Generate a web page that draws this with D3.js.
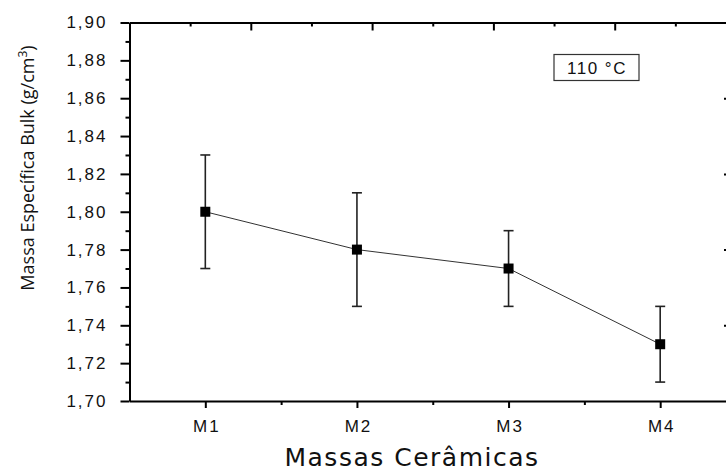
<!DOCTYPE html>
<html>
<head>
<meta charset="utf-8">
<script src="https://cdn.jsdelivr.net/npm/d3@7"></script>
<style>
  body { margin: 0; background: #fff; }
  svg { display: block; }
  .axis path, .axis line { stroke: #000; stroke-width: 2px; }
  .axis text { font-family: "Liberation Sans", Arial, sans-serif; font-size: 17px; fill: #111; letter-spacing: 2px; }
</style>
</head>
<body>
<svg id="chart"></svg>
<script>
// data
var categories = ["M1", "M2", "M3", "M4"];
var means = [1.80, 1.78, 1.77, 1.73];
var errLow = [1.77, 1.75, 1.75, 1.71];
var errHigh = [1.83, 1.81, 1.79, 1.75];
var yTicks = [1.70, 1.72, 1.74, 1.76, 1.78, 1.80, 1.82, 1.84, 1.86, 1.88, 1.90];
var tempLabel = "110 °C";

var width = 726,
    height = 474;

var svg = d3.select("#chart")
    .attr("width", width)
    .attr("height", height);

var plotLeft = 129.5, plotRight = 736, plotTop = 22.5, plotBottom = 401;

var x = d3.scaleLinear().domain([0.5, 4.5]).range([plotLeft, plotRight]);
var y = d3.scaleLinear().domain([1.70, 1.90]).range([plotBottom, plotTop]);
var xTop = d3.scaleLinear().domain([0, 5]).range([plotLeft, plotRight]);

var fmt = function(d) { return d3.format(".2f")(d).replace(".", ","); };

// minor ticks (y)
var yMinor = d3.range(0, 10).map(function(i) { return 1.71 + i * 0.02; });
svg.append("g").attr("class", "axis")
    .attr("transform", "translate(" + plotLeft + ",0)")
    .call(d3.axisLeft(y).tickValues(yMinor).tickSize(4).tickFormat(""))
    .select(".domain").remove();

// left axis
svg.append("g").attr("class", "axis")
    .attr("transform", "translate(" + plotLeft + ",0)")
    .call(d3.axisLeft(y).tickValues(yTicks).tickSize(9).tickSizeOuter(0).tickPadding(13).tickFormat(fmt));

// bottom axis minor
svg.append("g").attr("class", "axis")
    .attr("transform", "translate(0," + plotBottom + ")")
    .call(d3.axisBottom(x).tickValues([1.5, 2.5, 3.5]).tickSize(4).tickFormat(""))
    .select(".domain").remove();

// bottom axis
svg.append("g").attr("class", "axis")
    .attr("transform", "translate(0," + plotBottom + ")")
    .call(d3.axisBottom(x).tickValues([1, 2, 3, 4]).tickSize(7).tickSizeOuter(0).tickPadding(12)
        .tickFormat(function(d) { return categories[d - 1]; }))
    .selectAll("text").attr("dx", "1px");

// top axis (inward ticks)
svg.append("g").attr("class", "axis")
    .attr("transform", "translate(0," + plotTop + ")")
    .call(d3.axisBottom(xTop).tickValues([0.5, 1.5, 2.5, 3.5, 4.5]).tickSize(4).tickFormat(""))
    .select(".domain").remove();
svg.append("g").attr("class", "axis")
    .attr("transform", "translate(0," + plotTop + ")")
    .call(d3.axisBottom(xTop).tickValues([1, 2, 3, 4]).tickSize(8).tickSizeOuter(0).tickFormat(""));

// right axis, mostly outside the frame
svg.append("g").attr("class", "axis")
    .attr("transform", "translate(" + plotRight + ",0)")
    .call(d3.axisLeft(y).tickValues([1.74, 1.78, 1.82, 1.86]).tickSize(12).tickFormat(""))
    .select(".domain").remove();

// connecting line
var line = d3.line()
    .x(function(d, i) { return x(i + 1); })
    .y(function(d) { return y(d); });

svg.append("path")
    .datum(means)
    .attr("d", line)
    .attr("fill", "none")
    .attr("stroke", "#333")
    .attr("stroke-width", 1);

// error bars
var eb = svg.selectAll(".err")
    .data(means)
    .enter().append("g")
    .attr("class", "err")
    .attr("stroke", "#222")
    .attr("stroke-width", 1.6);

eb.append("line")
    .attr("x1", function(d, i) { return x(i + 1); })
    .attr("x2", function(d, i) { return x(i + 1); })
    .attr("y1", function(d, i) { return y(errLow[i]); })
    .attr("y2", function(d, i) { return y(errHigh[i]); });
eb.append("line")
    .attr("x1", function(d, i) { return x(i + 1) - 5; })
    .attr("x2", function(d, i) { return x(i + 1) + 5; })
    .attr("y1", function(d, i) { return y(errLow[i]); })
    .attr("y2", function(d, i) { return y(errLow[i]); });
eb.append("line")
    .attr("x1", function(d, i) { return x(i + 1) - 5; })
    .attr("x2", function(d, i) { return x(i + 1) + 5; })
    .attr("y1", function(d, i) { return y(errHigh[i]); })
    .attr("y2", function(d, i) { return y(errHigh[i]); });

// markers
svg.selectAll(".dot")
    .data(means)
    .enter().append("rect")
    .attr("class", "dot")
    .attr("x", function(d, i) { return x(i + 1) - 5; })
    .attr("y", function(d) { return y(d) - 5; })
    .attr("width", 10)
    .attr("height", 10)
    .attr("fill", "#000");

// temperature label box
svg.append("rect")
    .attr("x", 554).attr("y", 54.5)
    .attr("width", 85).attr("height", 26)
    .attr("fill", "#fff").attr("stroke", "#333").attr("stroke-width", 1.2);
svg.append("text")
    .attr("x", 597).attr("y", 73.5)
    .attr("text-anchor", "middle")
    .style("font-family", "Liberation Sans, Arial, sans-serif")
    .style("font-size", "17px")
    .style("letter-spacing", "1.5px")
    .attr("fill", "#111")
    .text(tempLabel);

// axis titles
svg.append("text")
    .attr("x", 412).attr("y", 466)
    .attr("text-anchor", "middle")
    .style("font-family", "DejaVu Sans, sans-serif")
    .style("font-size", "25px")
    .style("letter-spacing", "1.5px")
    .attr("fill", "#111")
    .text("Massas Cerâmicas");

svg.append("text")
    .attr("transform", "translate(34,168) rotate(-90)")
    .attr("text-anchor", "middle")
    .style("font-family", "Open Sans, sans-serif")
    .style("font-size", "18px")
    .attr("fill", "#111")
    .html("Massa Específica Bulk (g/cm<tspan dy='-7' font-size='12px'>3</tspan><tspan dy='7'>)</tspan>");
</script>
</body>
</html>
